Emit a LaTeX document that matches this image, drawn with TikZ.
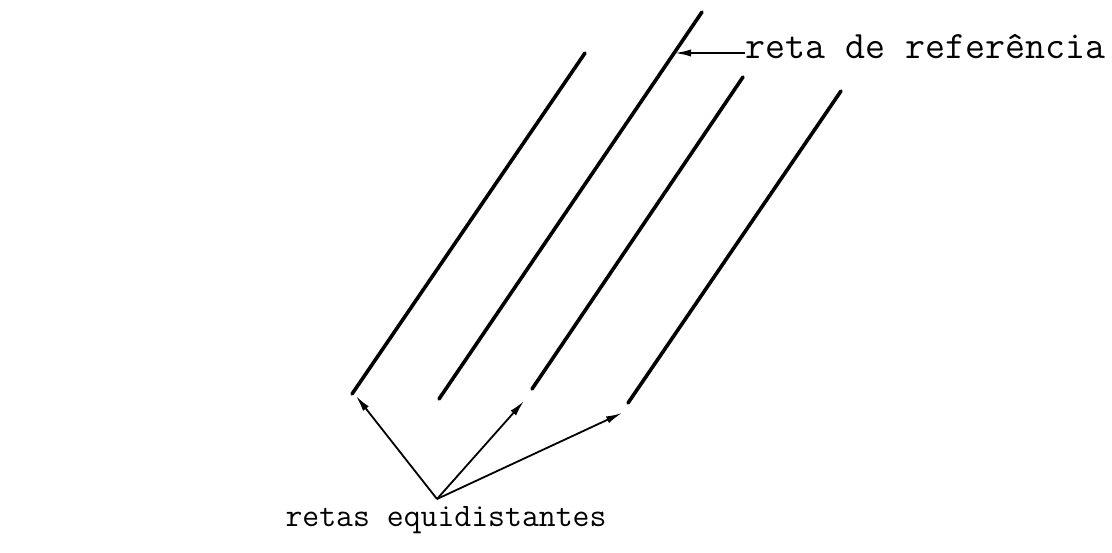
\documentclass[tikz,border=0pt]{standalone}
\usepackage{tikz}
\usetikzlibrary{arrows.meta}

\tikzset{
  reta/.style={line width=1.8pt, line cap=round},
  seta/.style={line width=0.9pt, -{Latex[length=8pt,width=3.6pt]}},
  rotulo/.style={font=\ttfamily, inner sep=0pt}
}

\begin{document}
\begin{tikzpicture}[x=0.5pt,y=-0.5pt]
    \useasboundingbox (0,0) rectangle (1112,552);

    % extremos das retas
    \coordinate (r1a) at (352,394);
    \coordinate (r1b) at (585,53);
    \coordinate (r2a) at (439,399);
    \coordinate (r2b) at (702,12);
    \coordinate (r3a) at (532,389);
    \coordinate (r3b) at (743,77);
    \coordinate (r4a) at (628,403);
    \coordinate (r4b) at (841,91);

    \foreach \n in {1,...,4}{
        \draw[reta] (r\n a) -- (r\n b);
    }

    % pontas das setas
    \coordinate (hub) at (437,499);
    \coordinate (p1) at (356,396);
    \coordinate (p2) at (524,401);
    \coordinate (p3) at (622,413);
    \coordinate (hit) at (675,53);

    \node[rotulo, anchor=west, font=\ttfamily\fontsize{19.4}{21}\selectfont]
        (ref) at (745,47) {reta de refer\^encia};
    \node[rotulo, font=\ttfamily\fontsize{16.4}{18}\selectfont]
        (equi) at (446,520) {retas equidistantes};

    \foreach \p in {p1,p2,p3}{
        \draw[seta] (hub) -- (\p);
    }
    \draw[seta] (ref.west |- hit) -- (hit);
\end{tikzpicture}
\end{document}
